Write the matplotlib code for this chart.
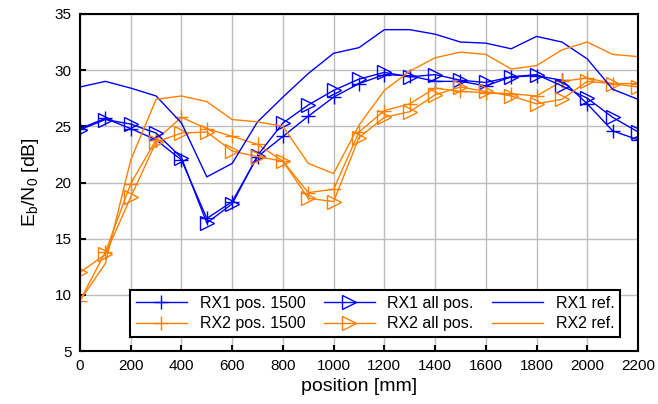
import numpy as np
import matplotlib
matplotlib.use('Agg')
from matplotlib import pyplot as plt

# positions along the track in mm
position = np.arange(0, 2300, 100)

# Eb/N0 in dB
rx1_pos1500 = [24.8, 25.7, 24.8, 23.8, 22.0, 16.8, 18.3, 22.3, 24.1, 25.9, 27.6, 28.8,
               29.6, 29.5, 29.0, 29.0, 28.6, 29.4, 29.5, 29.1, 27.0, 24.6, 23.8]
rx1_allpos = [24.7, 25.6, 25.2, 24.4, 22.2, 16.4, 18.1, 22.4, 25.3, 26.9, 28.2, 29.2,
              29.8, 29.4, 29.6, 29.1, 28.9, 29.4, 29.6, 28.6, 27.5, 25.8, 24.5]
rx1_ref = [28.5, 29.0, 28.4, 27.7, 25.3, 20.5, 21.7, 25.4, 27.6, 29.7, 31.5, 32.0,
           33.6, 33.6, 33.2, 32.5, 32.4, 31.9, 33.0, 32.5, 31.0, 28.3, 27.4]
rx2_pos1500 = [9.5, 13.8, 19.9, 23.8, 25.8, 24.8, 24.1, 23.4, 21.9, 19.1, 19.4, 24.5,
               26.4, 27.0, 28.4, 28.1, 28.0, 27.9, 27.7, 29.0, 29.3, 28.8, 28.8]
rx2_allpos = [12.0, 13.6, 18.7, 23.6, 24.4, 24.5, 22.8, 22.3, 21.9, 18.6, 18.3, 24.0,
              25.8, 26.3, 27.8, 28.5, 28.1, 27.7, 27.0, 27.4, 29.0, 28.8, 28.5]
rx2_ref = [9.5, 12.8, 22.0, 27.4, 27.7, 27.2, 25.6, 25.4, 25.0, 21.7, 20.8, 25.1,
           28.2, 29.9, 31.1, 31.6, 31.4, 30.1, 30.4, 31.8, 32.5, 31.4, 31.2]

blue = '#0000ff'
orange = '#ff8000'

plt.rcParams['font.family'] = ['Liberation Sans', 'DejaVu Sans']

fig = plt.figure(figsize=(6.58, 4.04), dpi=100)
ax = fig.add_axes([0.1216, 0.131, 0.848, 0.8345])

ax.plot(position, rx1_pos1500, color=blue, lw=1, marker='+', ms=10, mew=1, label='RX1 pos. 1500')
ax.plot(position, rx2_pos1500, color=orange, lw=1, marker='+', ms=10, mew=1, label='RX2 pos. 1500')
ax.plot(position, rx1_allpos, color=blue, lw=1, marker='>', ms=9.5, mew=1, mfc='none', label='RX1 all pos.')
ax.plot(position, rx2_allpos, color=orange, lw=1, marker='>', ms=9.5, mew=1, mfc='none', label='RX2 all pos.')
ax.plot(position, rx1_ref, color=blue, lw=1, label='RX1 ref.')
ax.plot(position, rx2_ref, color=orange, lw=1, label='RX2 ref.')

ax.set_xlim(0, 2200)
ax.set_ylim(5, 35)
ax.set_xticks(np.arange(0, 2201, 200))
ax.set_yticks(np.arange(5, 36, 5))
ax.grid(True, color='#bdbdbd', lw=1)
ax.set_axisbelow(True)
ax.tick_params(direction='in', labelsize=11, length=4, width=1.5, colors='black', pad=6)
for s in ax.spines.values():
    s.set_linewidth(1.5)

ax.set_xlabel('position [mm]', fontsize=14, labelpad=3)
ax.set_ylabel(r'E$_\mathregular{b}$/N$_\mathregular{0}$ [dB]', fontsize=14, labelpad=10)

leg = ax.legend(ncol=3, loc='lower left', bbox_to_anchor=(0.09, 0.042, 0.878, 0.131),
                mode='expand', borderaxespad=0, fontsize=11.5, frameon=True, fancybox=False,
                edgecolor='black', framealpha=1, numpoints=1, handlelength=3.2,
                borderpad=0.35, labelspacing=0.35, handletextpad=0.8)
leg.get_frame().set_linewidth(1.5)

fig.savefig('out.png', dpi=100)
